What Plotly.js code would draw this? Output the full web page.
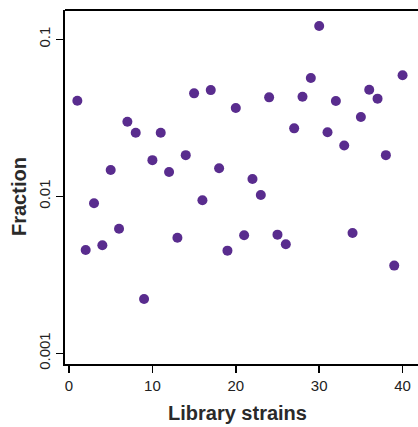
<!DOCTYPE html>
<html>
<head>
<meta charset="utf-8">
<script src="https://cdn.plot.ly/plotly-3.0.1.min.js"></script>
<style>html,body{margin:0;padding:0;background:#fff;}#chart{width:418px;height:427px;}</style>
</head>
<body>
<div id="chart"></div>
<script>
const strains = [1,2,3,4,5,6,7,8,9,10,11,12,13,14,15,16,17,18,19,20,21,22,23,24,25,26,27,28,29,30,31,32,33,34,35,36,37,38,39,40];
const fraction = [0.0406,0.00455,0.00903,0.00488,0.0147,0.00622,0.0299,0.0254,0.00222,0.0170,
  0.0254,0.0143,0.00545,0.0183,0.0453,0.00944,0.0475,0.0151,0.00451,0.0365,
  0.00565,0.0129,0.0102,0.0427,0.00570,0.00495,0.0271,0.0431,0.0567,0.1216,
  0.0256,0.0405,0.0211,0.00584,0.0320,0.0478,0.0419,0.0183,0.00362,0.0590];
const yTickVals = [0.001, 0.01, 0.1];
const yTickText = ['0.001', '0.01', '0.1'];
const xTickVals = [0, 10, 20, 30, 40];
const xTickText = ['0', '10', '20', '30', '40'];

const trace = {
  x: strains, y: fraction, type: 'scatter', mode: 'markers',
  marker: {color: '#592c8e', size: 10}, hoverinfo: 'skip'
};
const font = {family: 'Liberation Sans, Arial, sans-serif', size: 15, color: '#222'};
const layout = {
  width: 418, height: 427,
  margin: {l: 65, r: 0, t: 10, b: 63},
  paper_bgcolor: '#fff', plot_bgcolor: '#fff',
  showlegend: false,
  font: font,
  xaxis: {
    range: [-0.48, 41.85], tickvals: xTickVals, ticktext: xTickText,
    showgrid: false, zeroline: false, showline: true, linecolor: '#000', linewidth: 2,
    ticks: 'outside', ticklen: 7, tickwidth: 1.5, tickcolor: '#000',
    tickfont: font
  },
  yaxis: {
    type: 'log', range: [-3.068, -0.813], tickvals: yTickVals, ticktext: yTickText,
    showgrid: false, zeroline: false, showline: true, linecolor: '#000', linewidth: 2,
    ticks: 'outside', ticklen: 7, tickwidth: 1.5, tickcolor: '#000',
    tickangle: -90, tickfont: font
  },
  shapes: [{type: 'line', xref: 'paper', yref: 'paper', x0: 0, x1: 1, y0: 1, y1: 1,
    line: {color: '#000', width: 2}}],
  annotations: [
    {text: 'Library strains', xref: 'paper', yref: 'paper', x: (237.5-65)/353, y: -(413-364)/354,
      showarrow: false, xanchor: 'center', yanchor: 'middle',
      font: {family: 'Liberation Sans, Arial, sans-serif', size: 20, color: '#2a2a2a', weight: 'bold'}},
    {text: 'Fraction', xref: 'paper', yref: 'paper', x: -(65-19)/353, y: (364-197)/354,
      showarrow: false, xanchor: 'center', yanchor: 'middle', textangle: -90,
      font: {family: 'Liberation Sans, Arial, sans-serif', size: 20, color: '#2a2a2a', weight: 'bold'}}
  ]
};
Plotly.newPlot('chart', [trace], layout, {displayModeBar: false, staticPlot: true});
</script>
</body>
</html>
